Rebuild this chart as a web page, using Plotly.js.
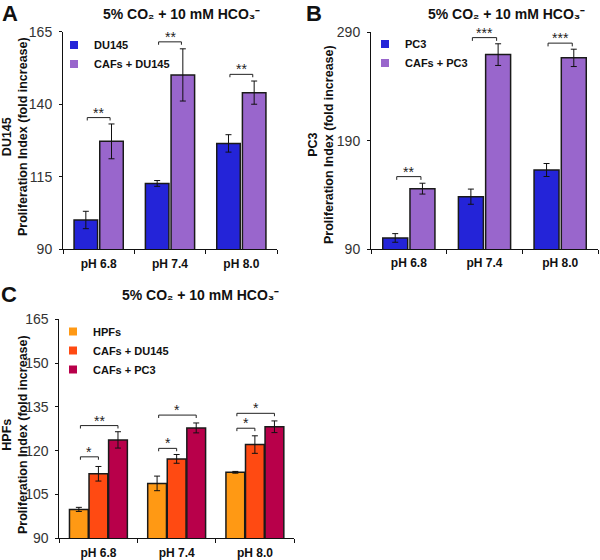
<!DOCTYPE html>
<html><head><meta charset="utf-8">
<script src="https://cdn.plot.ly/plotly-3.0.1.min.js"></script>
<style>html,body{margin:0;padding:0;background:#fff}#chart{width:600px;height:560px}</style>
</head><body><div id="chart"></div>
<script>
// ---- data ----
const phLabels = ['pH 6.8', 'pH 7.4', 'pH 8.0'];

// Panel A
const du145 = [100.1, 112.7, 126.5];
const du145Err = [3, 1, 3];
const cafsDu145 = [127.2, 150.1, 144.0];
const cafsDu145Err = [6, 9, 4];
const sigALabels = ['**', '**', '**'];
const sigAHeights = [135.4, 161.5, 150.3];

// Panel B
const pc3 = [100.2, 138.3, 162.9];
const pc3Err = [4, 7, 6];
const cafsPc3 = [145.7, 269.4, 266.4];
const cafsPc3Err = [5, 10, 8];
const sigBLabels = ['**', '***', '***'];
const sigBHeights = [156.8, 285.1, 280.0];

// Panel C
const hpfs = [99.9, 108.8, 112.6];
const hpfsErr = [0.7, 2.5, 0.3];
const hpfCafsDu145 = [112.1, 117.2, 122.1];
const hpfCafsDu145Err = [2.5, 1.5, 3];
const hpfCafsPc3 = [123.7, 127.8, 128.2];
const hpfCafsPc3Err = [2.8, 1.7, 2];
const sigCInnerLabels = ['*', '*', '*'];
const sigCInnerHeights = [117.9, 120.8, 127.7];
const sigCOuterLabels = ['**', '*', '*'];
const sigCOuterHeights = [128.6, 132.2, 132.8];

const titleText = '5% CO₂ + 10 mM HCO₃⁻';

// ---- helpers ----
const W = 600, H = 560;
const px = v => v / W, py = v => 1 - v / H;
const FONT = 'Liberation Sans, Arial, sans-serif';
const BORDER = {color: '#1a1a1a', width: 1.5};
const C_BLUE = '#2424d8', C_PURPLE = '#9966cc';
const C_ORANGE = '#ff9914', C_RED = '#ff4a12', C_CRIMSON = '#b8004a';

function barTrace(name, y, err, color, xa, ya, offset, width) {
  return {type: 'bar', name: name, x: phLabels, y: y,
    width: phLabels.map(() => width), offset: offset,
    marker: {color: color, line: BORDER},
    error_y: {type: 'data', array: err, visible: true, color: '#111', thickness: 1, width: 3},
    xaxis: xa, yaxis: ya, showlegend: false, hoverinfo: 'skip'};
}
function legendTrace(name, color, xa, ya, legend) {
  return {type: 'scatter', mode: 'markers', name: name, x: [null], y: [null],
    marker: {symbol: 'square', size: 8, color: color},
    xaxis: xa, yaxis: ya, legend: legend, showlegend: true, hoverinfo: 'skip'};
}

const shapes = [], annotations = [];
function bracket(xa, ya, xL, xR, y, tick, label) {
  const line = {color: '#222', width: 1};
  shapes.push({type: 'line', xref: xa, yref: ya, x0: xL, x1: xR, y0: y, y1: y, line: line});
  shapes.push({type: 'line', xref: xa, yref: ya, x0: xL, x1: xL, y0: y, y1: y - tick, line: line});
  shapes.push({type: 'line', xref: xa, yref: ya, x0: xR, x1: xR, y0: y, y1: y - tick, line: line});
  annotations.push({xref: xa, yref: ya, x: (xL + xR) / 2, y: y, text: label, showarrow: false,
    yanchor: 'bottom', yshift: -5, font: {family: FONT, size: 14, color: '#222'}});
}

// bar geometry (category units)
const wAB = 0.33, offAB = [-0.345, 0.015];
const wC = 0.24, offC = [-0.37, -0.12, 0.13];
const centerAB = k => offAB[k] + wAB / 2;
const centerC = k => offC[k] + wC / 2;

phLabels.forEach((_, i) => {
  bracket('x', 'y', i + centerAB(0) + 0.02, i + centerAB(1) - 0.02, sigAHeights[i], 1, sigALabels[i]);
  bracket('x2', 'y2', i + centerAB(0) + 0.02, i + centerAB(1) - 0.02, sigBHeights[i], 3, sigBLabels[i]);
  bracket('x3', 'y3', i + centerC(0) + 0.02, i + centerC(1), sigCInnerHeights[i], 1, sigCInnerLabels[i]);
  bracket('x3', 'y3', i + centerC(0) + 0.02, i + centerC(2), sigCOuterHeights[i], 1, sigCOuterLabels[i]);
});

const traces = [
  barTrace('DU145', du145, du145Err, C_BLUE, 'x', 'y', offAB[0], wAB),
  barTrace('CAFs + DU145', cafsDu145, cafsDu145Err, C_PURPLE, 'x', 'y', offAB[1], wAB),
  barTrace('PC3', pc3, pc3Err, C_BLUE, 'x2', 'y2', offAB[0], wAB),
  barTrace('CAFs + PC3', cafsPc3, cafsPc3Err, C_PURPLE, 'x2', 'y2', offAB[1], wAB),
  barTrace('HPFs', hpfs, hpfsErr, C_ORANGE, 'x3', 'y3', offC[0], wC),
  barTrace('CAFs + DU145', hpfCafsDu145, hpfCafsDu145Err, C_RED, 'x3', 'y3', offC[1], wC),
  barTrace('CAFs + PC3', hpfCafsPc3, hpfCafsPc3Err, C_CRIMSON, 'x3', 'y3', offC[2], wC),
  legendTrace('DU145', C_BLUE, 'x', 'y', 'legend'),
  legendTrace('CAFs + DU145', C_PURPLE, 'x', 'y', 'legend'),
  legendTrace('PC3', C_BLUE, 'x2', 'y2', 'legend2'),
  legendTrace('CAFs + PC3', C_PURPLE, 'x2', 'y2', 'legend2'),
  legendTrace('HPFs', C_ORANGE, 'x3', 'y3', 'legend3'),
  legendTrace('CAFs + DU145', C_RED, 'x3', 'y3', 'legend3'),
  legendTrace('CAFs + PC3', C_CRIMSON, 'x3', 'y3', 'legend3')
];

function xAxis(d0, d1, anchor) {
  return {domain: [px(d0), px(d1)], anchor: anchor, type: 'category', range: [-0.5, 2.5],
    tickson: 'boundaries', ticks: 'outside', ticklen: 4, tickcolor: '#111', tickwidth: 1,
    showline: true, linecolor: '#111', linewidth: 1, showgrid: false, fixedrange: true,
    tickfont: {family: FONT, size: 12, color: '#111', weight: 'bold'}, ticklabelstandoff: 3};
}
function yAxis(top, bottom, anchor, rng, dt) {
  return {domain: [py(bottom), py(top)], anchor: anchor, range: rng, tick0: rng[0], dtick: dt,
    ticks: 'outside', ticklen: 3, tickcolor: '#111', showline: true, linecolor: '#111', linewidth: 1,
    showgrid: false, zeroline: false, fixedrange: true,
    tickfont: {family: FONT, size: 14, color: '#333'}, ticklabelstandoff: 4};
}
function legend(left, top) {
  return {x: px(left), y: py(top), xanchor: 'left', yanchor: 'top', bgcolor: 'rgba(0,0,0,0)',
    borderwidth: 0, tracegroupgap: 0, itemclick: false, itemdoubleclick: false,
    font: {family: FONT, size: 11, color: '#111', weight: 'bold'}};
}
function textAnn(x, y, text, size, extra) {
  return Object.assign({xref: 'paper', yref: 'paper', x: px(x), y: py(y), text: text, showarrow: false,
    xanchor: 'center', yanchor: 'middle', font: {family: FONT, size: size, color: '#111'}}, extra || {});
}

annotations.push(
  textAnn(181, 14, '<b>' + titleText + '</b>', 14),
  textAnn(506, 14, '<b>' + titleText + '</b>', 14),
  textAnn(200, 295, '<b>' + titleText + '</b>', 14),
  textAnn(10, 13, '<b>A</b>', 22),
  textAnn(314, 13, '<b>B</b>', 22),
  textAnn(9, 294, '<b>C</b>', 22),
  textAnn(15, 137, '<b>DU145</b><br><b>Proliferation Index (fold increase)</b>', 12.5, {textangle: -90}),
  textAnn(321, 145, '<b>PC3</b><br><b>Proliferation Index (fold increase)</b>', 12.5, {textangle: -90}),
  textAnn(15, 435, '<b>HPFs</b><br><b>Proliferation Index (fold increase)</b>', 12.5, {textangle: -90})
);

const layout = {
  width: W, height: H, margin: {l: 0, r: 0, t: 0, b: 0},
  paper_bgcolor: '#fff', plot_bgcolor: 'rgba(0,0,0,0)',
  font: {family: FONT, color: '#111'},
  xaxis: xAxis(63, 277, 'y'),
  yaxis: yAxis(31.7, 249.3, 'x', [90, 165], 25),
  xaxis2: xAxis(371, 598, 'y2'),
  yaxis2: yAxis(32.3, 249, 'x2', [90, 290], 100),
  xaxis3: xAxis(59.3, 294, 'y3'),
  yaxis3: yAxis(319.3, 538.3, 'x3', [90, 165], 15),
  legend: legend(54, 30.5),
  legend2: legend(365, 29.5),
  legend3: legend(53, 317),
  shapes: shapes,
  annotations: annotations,
  showlegend: true,
  hovermode: false
};

Plotly.newPlot('chart', traces, layout, {displayModeBar: false, staticPlot: true});
</script>
</body></html>
